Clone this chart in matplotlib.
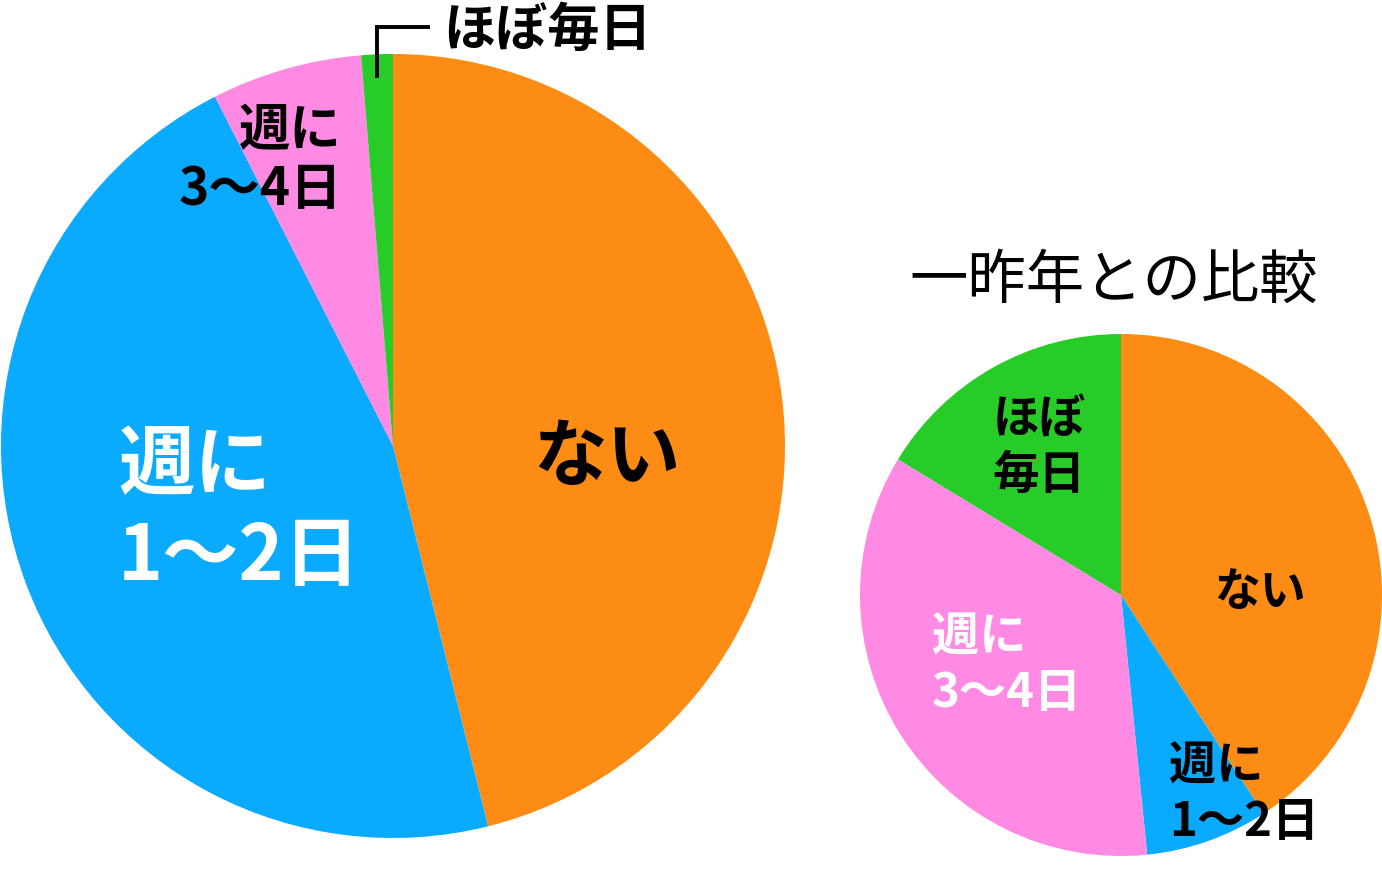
import matplotlib
matplotlib.use("Agg")
import matplotlib.pyplot as plt

plt.rcParams['font.family'] = ['Noto Sans CJK JP', 'DejaVu Sans']

# data
labels = ["ない", "週に1〜2日", "週に3〜4日", "ほぼ毎日"]
this_year = [46.1, 46.4, 6.2, 1.3]
two_years_ago = [40.8, 7.6, 35.3, 16.3]
colors = ["#FD8C15", "#0AABFF", "#FF8AE3", "#28CC28"]
title_small = "一昨年との比較"

W, H = 1382, 887
fig = plt.figure(figsize=(W / 100, H / 100), dpi=100)


def pie_axes(cx, cy, r, values):
    # square axes around pixel centre cx, cy with radius r
    ax = fig.add_axes([(cx - r) / W, (H - cy - r) / H, 2 * r / W, 2 * r / H])
    ax.pie(values, colors=colors, startangle=90, counterclock=False,
           radius=1, wedgeprops=dict(linewidth=0))
    ax.set_xlim(-1, 1)
    ax.set_ylim(-1, 1)
    ax.axis("off")
    return ax


def px(c, r, x, y):
    # pixel coords -> data coords of a pie axes
    return (x - c[0]) / r, -(y - c[1]) / r


# big pie
c1, r1 = (393, 447), 392
ax1 = pie_axes(*c1, r1, this_year)

ax1.text(*px(c1, r1, 607, 459), "ない", fontsize=53, fontweight="bold",
         ha="center", va="center", color="black")
ax1.text(*px(c1, r1, 118, 512), "週に\n1〜2日", fontsize=55, fontweight="bold",
         ha="left", va="center", color="white", linespacing=1.22)
ax1.text(*px(c1, r1, 342, 160), "週に\n3〜4日", fontsize=37, fontweight="bold",
         ha="right", va="center", color="black", linespacing=1.15)
ax1.text(*px(c1, r1, 443, 30), "ほぼ毎日", fontsize=37.5, fontweight="bold",
         ha="left", va="center", color="black")
lx, ly = zip(px(c1, r1, 377, 77), px(c1, r1, 377, 28), px(c1, r1, 428, 28))
ax1.plot(lx, ly, color="black", lw=2.8, clip_on=False,
         solid_joinstyle="miter")

# small pie
c2, r2 = (1121, 596), 261
ax2 = pie_axes(*c2, r2, two_years_ago)

ax2.text(*px(c2, r2, 1114, 281), title_small, fontsize=42,
         ha="center", va="center", color="black", clip_on=False)
ax2.text(*px(c2, r2, 1039, 447), "ほぼ\n毎日", fontsize=33.5, fontweight="bold",
         ha="center", va="center", color="black", linespacing=1.2)
ax2.text(*px(c2, r2, 1260, 593), "ない", fontsize=33, fontweight="bold",
         ha="center", va="center", color="black")
ax2.text(*px(c2, r2, 932, 665), "週に\n3〜4日", fontsize=34, fontweight="bold",
         ha="left", va="center", color="white", linespacing=1.2)
ax2.text(*px(c2, r2, 1169, 794), "週に\n1〜2日", fontsize=34, fontweight="bold",
         ha="left", va="center", color="black", linespacing=1.2)

fig.savefig("out.png", dpi=100)
